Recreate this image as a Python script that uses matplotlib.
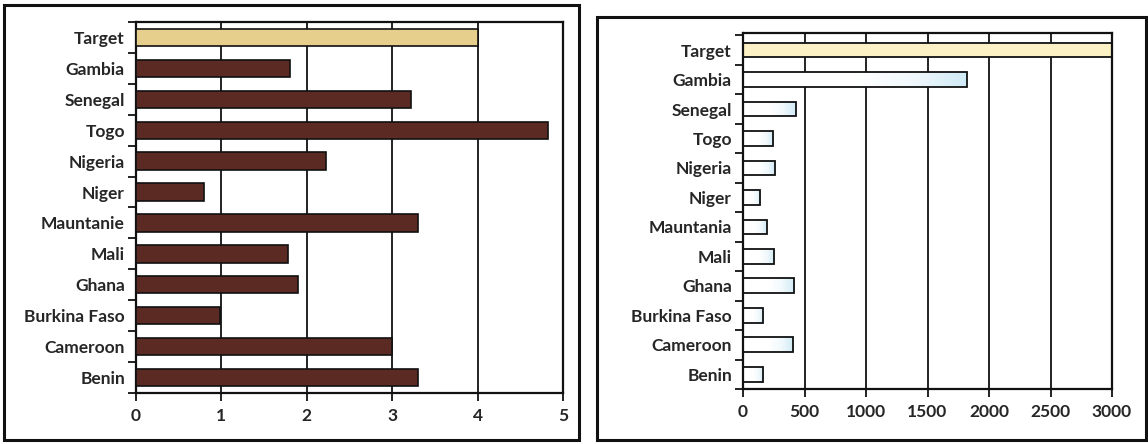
import matplotlib
matplotlib.use("Agg")
import matplotlib.pyplot as plt
from matplotlib.patches import Rectangle
from matplotlib.colors import LinearSegmentedColormap
import numpy as np

# ---- data ----
categories_left = ["Benin", "Cameroon", "Burkina Faso", "Ghana", "Mali", "Mauntanie",
                   "Niger", "Nigeria", "Togo", "Senegal", "Gambia", "Target"]
values_left = [3.3, 3.0, 0.98, 1.9, 1.78, 3.3, 0.8, 2.22, 4.83, 3.22, 1.8, 4.0]

categories_right = ["Benin", "Cameroon", "Burkina Faso", "Ghana", "Mali", "Mauntania",
                    "Niger", "Nigeria", "Togo", "Senegal", "Gambia", "Target"]
values_right = [165, 410, 165, 415, 255, 195, 140, 260, 245, 430, 1820, 3000]

left_xticks = [0, 1, 2, 3, 4, 5]
right_xticks = [0, 500, 1000, 1500, 2000, 2500, 3000]

plt.rcParams['font.family'] = ['Lato', 'DejaVu Sans']

W, H = 1148, 444
fig = plt.figure(figsize=(W / 100, H / 100), dpi=100)
fig.patch.set_facecolor('white')

def fx(px):
    return px / W

def fy(py):
    return 1 - py / H

# outer frames
fig.add_artist(Rectangle((fx(4), fy(440)), fx(579) - fx(4), fy(5) - fy(440),
                         transform=fig.transFigure, fill=False, lw=2.2, ec='#111111'))
fig.add_artist(Rectangle((fx(597), fy(440)), fx(1146) - fx(597), fy(17) - fy(440),
                         transform=fig.transFigure, fill=False, lw=2.2, ec='#111111'))

label_kw = dict(fontsize=12.5, fontweight='bold', color='#262626')


def style_axes(ax, cats, xticks, xlim, ylim):
    n = len(cats)
    y = np.arange(n)
    ax.set_xlim(*xlim)
    ax.set_ylim(*ylim)
    ax.set_yticks(y)
    ax.set_yticklabels(cats, **label_kw)
    ax.set_yticks(np.arange(n + 1) - 0.5, minor=True)
    ax.tick_params(axis='y', which='major', length=0, pad=8)
    ax.tick_params(axis='y', which='minor', length=6, width=1.3, color='#111111', direction='out')
    ax.set_xticks(xticks)
    ax.set_xticklabels([str(t) for t in xticks], **label_kw)
    ax.tick_params(axis='x', which='major', length=6, width=1.3, color='#111111', pad=5)
    for s in ax.spines.values():
        s.set_linewidth(1.6)
        s.set_color('#111111')
    for t in xticks[1:-1]:
        ax.axvline(t, color='#111111', lw=1.3, zorder=1)


# ---- left chart ----
axL = fig.add_axes([fx(136), fy(393), fx(563) - fx(136), fy(22) - fy(393)])
nL = len(categories_left)
colorsL = ['#5b2a23'] * (nL - 1) + ['#e6ce8c']
axL.barh(np.arange(nL), values_left, height=0.56, color=colorsL,
         edgecolor='#111111', linewidth=1.2, zorder=3)
style_axes(axL, categories_left, left_xticks, (0, 5), (-0.48, 11.4))

# ---- right chart ----
axR = fig.add_axes([fx(743), fy(389), fx(1112) - fx(743), fy(33) - fy(389)])
nR = len(categories_right)
yR = np.arange(nR)
bars = axR.barh(yR, values_right, height=0.5, color='white', edgecolor='none', zorder=2)
cmap = LinearSegmentedColormap.from_list('wb', ['#ffffff', '#ffffff', '#ffffff', '#f2f9fc', '#cfeaf6'])
grad = np.linspace(0, 1, 256).reshape(1, -1)
for i, b in enumerate(bars):
    if categories_right[i] == 'Target':
        b.set_facecolor('#fbf1c4')
        continue
    x0, y0 = b.get_x(), b.get_y()
    w, h = b.get_width(), b.get_height()
    im = axR.imshow(grad, extent=[x0, x0 + w, y0, y0 + h], cmap=cmap, aspect='auto',
                    zorder=2.5, origin='lower')
    im.set_clip_path(b)
axR.barh(yR, values_right, height=0.5, color='none', edgecolor='#111111',
         linewidth=1.3, zorder=3)
style_axes(axR, categories_right, right_xticks, (0, 3000), (-0.5, 11.58))
axR.set_aspect('auto')

fig.savefig('out.png', dpi=100, facecolor='white')
